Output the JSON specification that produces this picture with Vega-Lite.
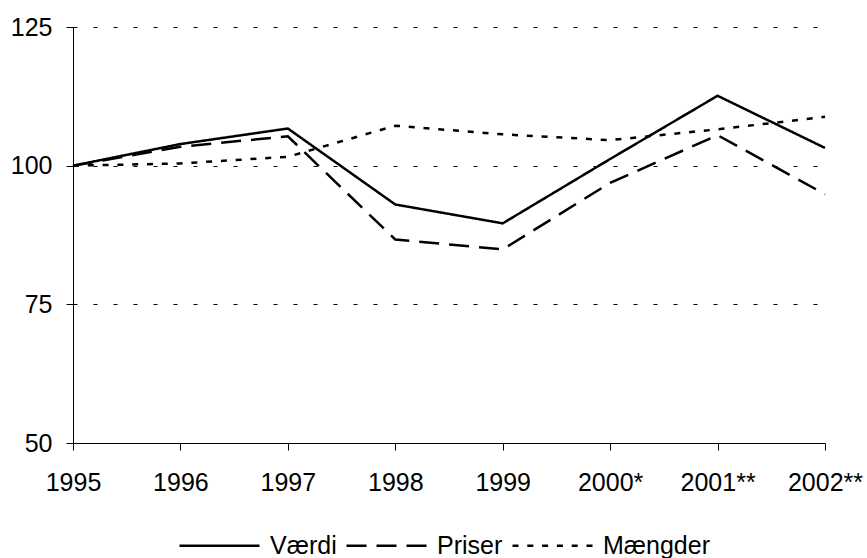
{
  "$schema": "https://vega.github.io/schema/vega-lite/v6.json",
  "width": 752,
  "height": 416,
  "autosize": {"type": "none"},
  "padding": {"left": 73, "top": 27, "right": 42, "bottom": 115},
  "background": "white",
  "config": {
    "view": {"stroke": null},
    "font": "Liberation Sans"
  },
  "data": {
    "values": [
      {"year": "1995", "serie": "Værdi", "value": 100},
      {"year": "1996", "serie": "Værdi", "value": 103.9},
      {"year": "1997", "serie": "Værdi", "value": 106.7},
      {"year": "1998", "serie": "Værdi", "value": 93.0},
      {"year": "1999", "serie": "Værdi", "value": 89.6},
      {"year": "2000*", "serie": "Værdi", "value": 101.2},
      {"year": "2001**", "serie": "Værdi", "value": 112.6},
      {"year": "2002**", "serie": "Værdi", "value": 103.2},
      {"year": "1995", "serie": "Priser", "value": 100},
      {"year": "1996", "serie": "Priser", "value": 103.4},
      {"year": "1997", "serie": "Priser", "value": 105.3},
      {"year": "1998", "serie": "Priser", "value": 86.7},
      {"year": "1999", "serie": "Priser", "value": 84.9},
      {"year": "2000*", "serie": "Priser", "value": 96.9},
      {"year": "2001**", "serie": "Priser", "value": 105.5},
      {"year": "2002**", "serie": "Priser", "value": 94.85},
      {"year": "1995", "serie": "Mængder", "value": 100},
      {"year": "1996", "serie": "Mængder", "value": 100.4},
      {"year": "1997", "serie": "Mængder", "value": 101.6},
      {"year": "1998", "serie": "Mængder", "value": 107.2},
      {"year": "1999", "serie": "Mængder", "value": 105.65},
      {"year": "2000*", "serie": "Mængder", "value": 104.6},
      {"year": "2001**", "serie": "Mængder", "value": 106.55},
      {"year": "2002**", "serie": "Mængder", "value": 108.8}
    ]
  },
  "mark": {"type": "line", "color": "black", "strokeWidth": 2.5},
  "encoding": {
    "x": {
      "field": "year",
      "type": "ordinal",
      "sort": null,
      "scale": {"type": "point", "padding": 0},
      "axis": {
        "title": null,
        "labelAngle": 0,
        "labelFontSize": 25,
        "labelColor": "black",
        "labelPadding": 20,
        "tickSize": 7,
        "tickColor": "black",
        "domainColor": "black",
        "grid": false,
        "labelOverlap": false
      }
    },
    "y": {
      "field": "value",
      "type": "quantitative",
      "scale": {"domain": [50, 125], "nice": false, "zero": false},
      "axis": {
        "title": null,
        "values": [50, 75, 100, 125],
        "labelFontSize": 25,
        "labelColor": "black",
        "labelPadding": 14,
        "tickSize": 7,
        "tickColor": "black",
        "domainColor": "black",
        "grid": true,
        "gridColor": "black",
        "gridDash": [4, 16],
        "gridWidth": 1
      }
    },
    "strokeDash": {
      "field": "serie",
      "type": "nominal",
      "scale": {
        "domain": ["Værdi", "Priser", "Mængder"],
        "range": [[1, 0], [20, 10], [6, 8.8]]
      },
      "legend": {
        "title": null,
        "orient": "none",
        "direction": "horizontal",
        "legendX": 105,
        "legendY": 477,
        "symbolType": "stroke",
        "symbolSize": 6400,
        "symbolStrokeColor": "black",
        "symbolStrokeWidth": 2.5,
        "labelFontSize": 25,
        "labelColor": "black",
        "labelOffset": 9,
        "columnPadding": 4,
        "padding": 0
      }
    }
  }
}
